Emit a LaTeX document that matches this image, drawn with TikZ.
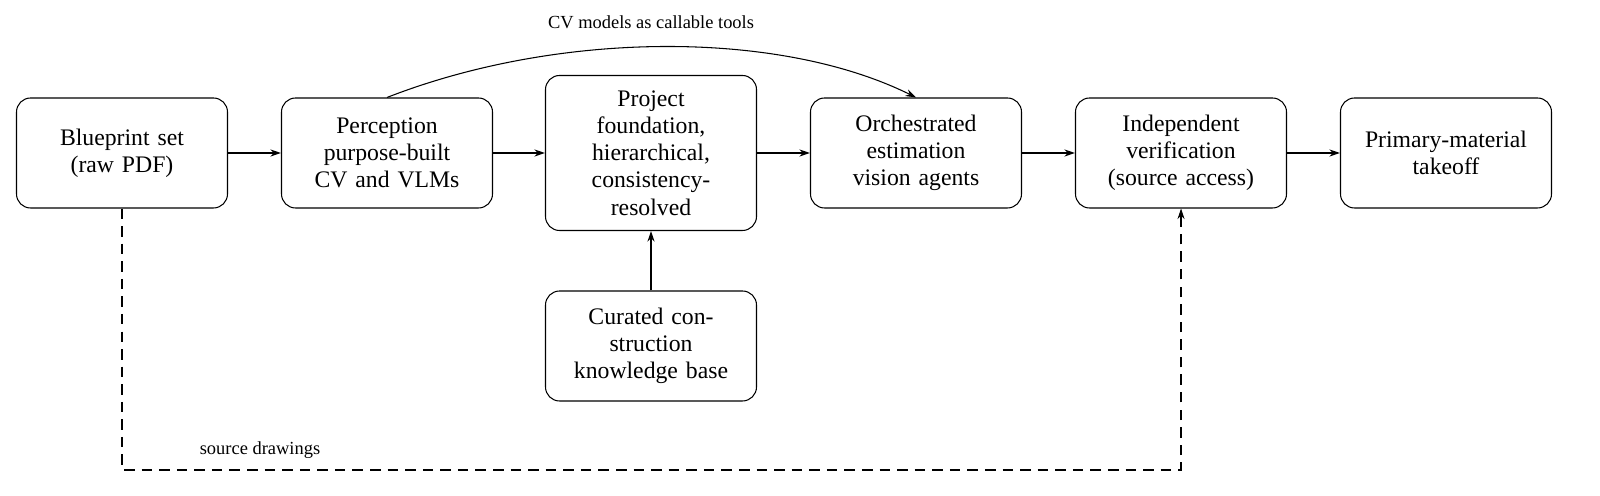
\documentclass[tikz,border=0pt]{standalone}
\usepackage{fontspec}
\setmainfont{Liberation Serif}
\usetikzlibrary{arrows.meta}
\begin{document}
\begin{tikzpicture}[x=0.02cm,y=-0.02cm,
  box/.style={draw,rounded corners=8pt,minimum width=211*0.02cm,minimum height=110*0.02cm,align=center,text width=3.6cm,font=\fontsize{13.5}{15.5}\selectfont,line width=0.6pt},
  arr/.style={-{Stealth[length=6pt,width=4pt]},line width=0.6pt},
  lab/.style={font=\fontsize{10.5}{12}\selectfont}]
\useasboundingbox (0,0) rectangle (1600,496);
\node[box] (a) at (122,153) {Blueprint set\\(raw PDF)};
\node[box] (b) at (387,153) {Perception\\purpose-built\\CV and VLMs};
\node[box,minimum height=155*0.02cm] (c) at (651,153) {Project\\foundation,\\hierarchical,\\consistency-\\resolved};
\node[box] (d) at (916,153) {Orchestrated\\estimation\\vision agents};
\node[box] (e) at (1181,153) {Independent\\verification\\(source access)};
\node[box] (f) at (1446,153) {Primary-material\\takeoff};
\node[box] (g) at (651,346) {Curated con-\\struction\\knowledge base};
\draw[arr] (a) -- (b);
\draw[arr] (b) -- (c);
\draw[arr] (c) -- (d);
\draw[arr] (d) -- (e);
\draw[arr] (e) -- (f);
\draw[arr] (g) -- (c);
\draw[arr] (b.north) .. controls (560,30) and (780,30) .. (d.north);
\node[lab] (t1) at (651,22) {CV models as callable tools};
\coordinate (p1) at (122,470);
\coordinate (p2) at (1181,470);
\draw[arr,dash pattern=on 6pt off 4pt] (a.south) -- (p1) -- (p2) -- (e.south);
\node[lab] (t2) at (260,450) {source drawings};
\end{tikzpicture}
\end{document}
